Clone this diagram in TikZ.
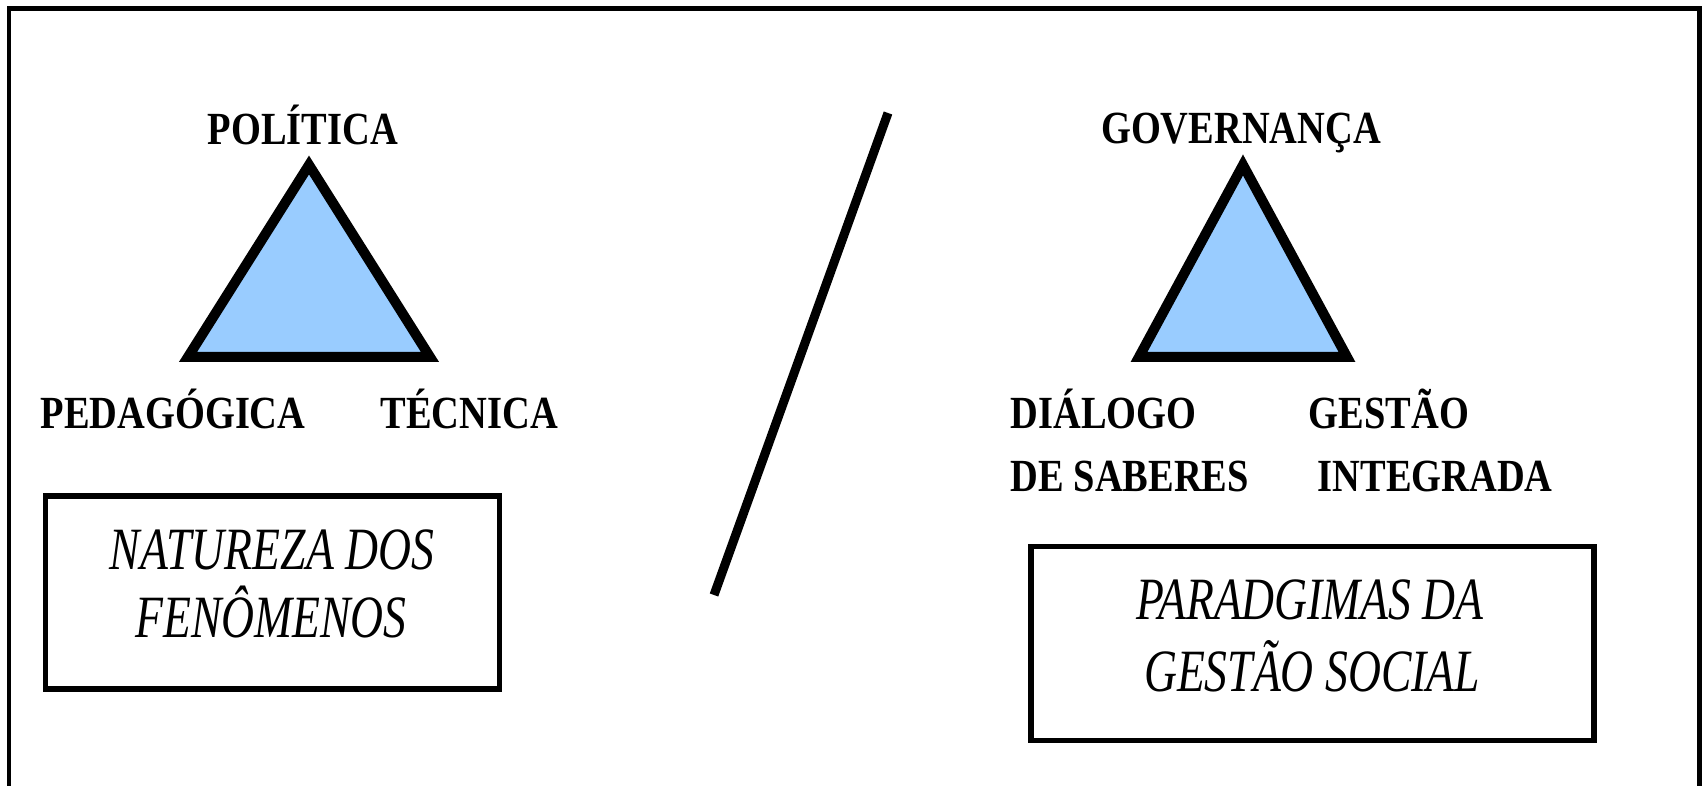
\documentclass[tikz,border=0pt]{standalone}
\usepackage{fontspec}
\setmainfont{Liberation Serif}
\usepackage{graphicx}
\definecolor{triblue}{HTML}{99CCFF}
\newcommand{\boldlbl}[1]{\scalebox{0.835}[1]{#1}}
\newcommand{\itallbl}[1]{\scalebox{0.76}[1]{#1}}
\tikzset{
  lbl/.style={inner sep=0pt, font=\fontsize{13.09}{15}\selectfont\bfseries},
  itl/.style={inner sep=0pt, anchor=base, font=\fontsize{17.07}{19}\selectfont\itshape},
  tri/.style={fill=triblue, draw=black, line width=2.85pt, line join=miter},
  boxst/.style={draw=black, line width=1.5pt, inner sep=0pt},
  slash/.style={draw=black, line width=2.56pt}
}
\begin{document}
\begin{tikzpicture}[x=0.01cm, y=-0.01cm]
\useasboundingbox (0,0) rectangle (1702,786);
% outer frame (bottom edge lies outside the picture)
\begin{scope}
  \clip (0,0) rectangle (1702,786);
  \draw[line width=1.42pt] (9,8.5) rectangle (1699,830);
\end{scope}

% left triangle
\coordinate (LA) at (309,165);
\coordinate (LB) at (188,357);
\coordinate (LC) at (430,357);
\filldraw[tri] (LA) -- (LB) -- (LC) -- cycle;

% right triangle
\coordinate (RA) at (1243,165);
\coordinate (RB) at (1139,357);
\coordinate (RC) at (1347,357);
\filldraw[tri] (RA) -- (RB) -- (RC) -- cycle;

% slash
\coordinate (S1) at (888,113);
\coordinate (S2) at (714,595);
\draw[slash] (S1) -- (S2);

% labels left
\node[lbl, anchor=base] (pol) at (303,145) {\boldlbl{POLÍTICA}};
\node[lbl, anchor=base west] (ped) at (40,429) {\boldlbl{PEDAGÓGICA}};
\node[lbl, anchor=base west] (tec) at (380,429) {\boldlbl{TÉCNICA}};

% labels right
\node[lbl, anchor=base] (gov) at (1241,144) {\boldlbl{GOVERNANÇA}};
\node[lbl, anchor=base west] (dia) at (1010,429) {\boldlbl{DIÁLOGO}};
\node[lbl, anchor=base west] (sab) at (1010,492) {\boldlbl{DE SABERES}};
\node[lbl, anchor=base west] (ges) at (1308,429) {\boldlbl{GESTÃO}};
\node[lbl, anchor=base west] (int) at (1317,492) {\boldlbl{INTEGRADA}};

% boxes
\node[boxst, minimum width=4.539cm, minimum height=1.93cm] (nat) at (272.5,592.5) {};
\node[itl] (nat1) at (272,570) {\itallbl{NATUREZA DOS}};
\node[itl] (nat2) at (271,638) {\itallbl{FENÔMENOS}};

\node[boxst, minimum width=5.625cm, minimum height=1.938cm] (par) at (1312.5,643.6) {};
\node[itl] (par1) at (1310,620) {\itallbl{PARADGIMAS DA}};
\node[itl] (par2) at (1312,692) {\itallbl{GESTÃO SOCIAL}};
\end{tikzpicture}
\end{document}
